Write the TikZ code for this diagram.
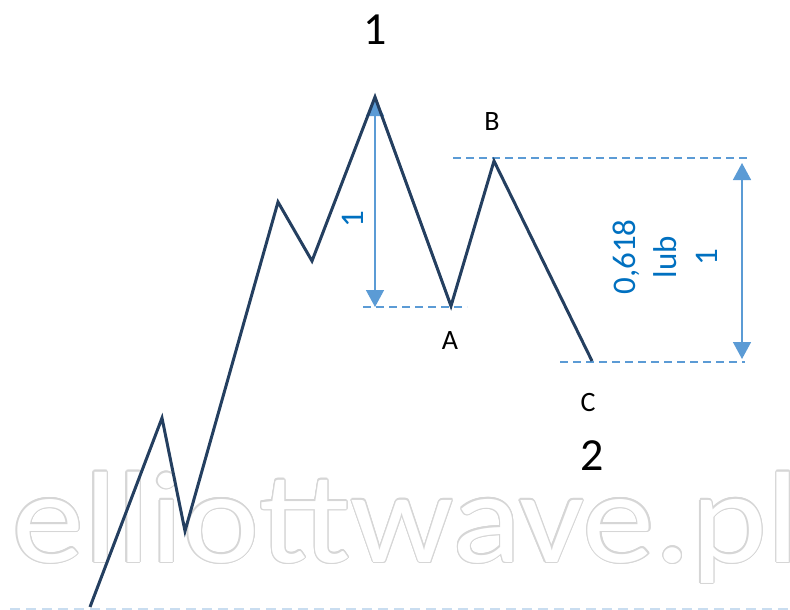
\documentclass[tikz,border=0pt]{standalone}
\usepackage{fontspec}
\setmainfont{Carlito}
\usepackage{graphicx}
\usepackage[copies]{contour}
\usepackage{xcolor}
\usetikzlibrary{arrows.meta}
\definecolor{waveblue}{HTML}{243F60}
\definecolor{guideblue}{HTML}{5B9BD5}
\definecolor{textblue}{HTML}{0070C0}
\definecolor{markgray}{HTML}{D6D6D6}
\definecolor{baseblue}{HTML}{C9DDF0}
\contourlength{1.1pt}

\begin{document}
\begin{tikzpicture}[
    x=1pt, y=-1pt,
    >={Triangle[length=17pt, width=18pt]},
    wave/.style={draw=waveblue, line width=3pt, line join=miter},
    guide/.style={draw=guideblue, line width=1.5pt, dash pattern=on 8pt off 5pt},
    baseguide/.style={draw=baseblue, line width=1.5pt, dash pattern=on 10pt off 6pt},
    span/.style={draw=guideblue, line width=1.5pt, <->},
    wavelbl/.style={inner sep=0pt, font=\fontsize{28}{34}\selectfont},
    degreelbl/.style={inner sep=0pt, font=\fontsize{46}{52}\selectfont},
    ratiolbl/.style={inner sep=0pt, text=textblue, rotate=90, align=center, font=\fontsize{33}{41}\selectfont},
    marklbl/.style={anchor=base west, inner sep=0pt, font=\fontsize{130}{130}\selectfont}
]
    \useasboundingbox (0,0) rectangle (790,610);
    \clip (0,0) rectangle (790,610);

    % Watermark
    \node [marklbl] (mark) at (12,562) {\scalebox{1.11}[1]{\contour{markgray}{\textcolor{white}{elliottwave.pl}}}};

    % Wave points
    \coordinate (p0) at (90,607);
    \coordinate (p1) at (162,418);
    \coordinate (p2) at (185,531);
    \coordinate (p3) at (278,202);
    \coordinate (p4) at (312,261);
    \coordinate (top) at (375,97);
    \coordinate (ptA) at (451,306);
    \coordinate (ptB) at (494,161);
    \coordinate (ptC) at (592,361);

    % Guide ends
    \coordinate (levA-l) at (363,307);
    \coordinate (levA-r) at (467,307);
    \coordinate (levB-l) at (453,158);
    \coordinate (levB-r) at (748,158);
    \coordinate (levC-l) at (560,362);
    \coordinate (levC-r) at (745,362);
    \coordinate (base-l) at (10,609);
    \coordinate (base-r) at (790,609);
    \coordinate (spanAB-t) at (375,99);
    \coordinate (spanAB-b) at (375,307);
    \coordinate (spanC-t) at (742,163);
    \coordinate (spanC-b) at (742,359);

    \draw [baseguide] (base-l) -- (base-r);
    \draw [guide] (levA-l) -- (levA-r);
    \draw [guide] (levB-l) -- (levB-r);
    \draw [guide] (levC-l) -- (levC-r);

    \draw [span] (spanAB-t) -- (spanAB-b);
    \draw [span] (spanC-t) -- (spanC-b);

    \draw [wave] (p0) -- (p1) -- (p2) -- (p3) -- (p4) -- (top) -- (ptA) -- (ptB) -- (ptC);

    % Labels
    \node [degreelbl] (lbl1) at (375,30) {1};
    \node [degreelbl] (lbl2) at (592,456) {2};
    \node [wavelbl] (lblA) at (450,341) {A};
    \node [wavelbl] (lblB) at (492,122) {B};
    \node [wavelbl] (lblC) at (588,403) {C};
    \node [ratiolbl] (ratioAB) at (353,219) {1};
    \node [ratiolbl] (ratioC) at (665,257) {0,618\\lub\\1};

\end{tikzpicture}
\end{document}
